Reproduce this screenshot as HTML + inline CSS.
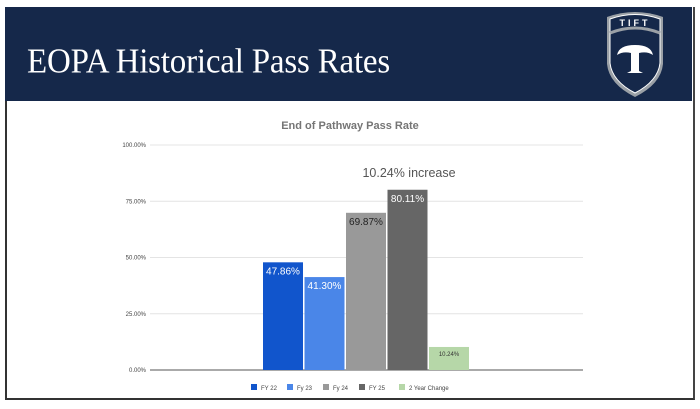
<!DOCTYPE html>
<html><head><meta charset="utf-8"><style>
body{margin:0;width:700px;height:409px;background:#fff;position:relative;overflow:hidden;font-family:"Liberation Sans",sans-serif}
#frame{position:absolute;left:5px;top:7px;width:686px;height:391px;border:2px solid #333;border-top:none;border-right:2px solid #444}
#header{position:absolute;left:5px;top:7px;width:687px;height:94px;background:#15284a}
#title{position:absolute;left:22px;top:36px;font-family:"Liberation Serif",serif;font-size:33px;color:#fff;letter-spacing:-0.2px;transform:scaleY(1.05);transform-origin:left top}
</style></head><body>
<div id="frame"></div>
<div id="header">
<div id="title">EOPA Historical Pass Rates</div>
</div>
<svg style="position:absolute;left:603px;top:9px" width="64" height="90" viewBox="0 0 64 90">
<path d="M4 8 Q32 -2 60 8 L60 55 Q58 75 32 88 Q6 75 4 55 Z" fill="#9aa0a6"/>
<path d="M7 10 Q32 1 57 10 L57 54 Q55 72 32 84 Q9 72 7 54 Z" fill="#15284a" stroke="#fff" stroke-width="1"/>
<path d="M7 24 Q32 14 57 24" stroke="#9aa0a6" stroke-width="3" fill="none"/>
<text x="32" y="17" font-family="Liberation Sans" font-weight="bold" font-size="9" fill="#fff" text-anchor="middle" letter-spacing="3">TIFT</text>
<path d="M14 46 Q16 36 32 36 Q48 36 50 46 Q44 42 36 44 L36 62 L40 64 L24 64 L28 62 L28 44 Q20 42 14 46 Z" fill="#fff"/>
</svg>
<svg id="chart" width="700" height="409" style="position:absolute;left:0;top:0"></svg>
<script>
const categories=["FY 22","Fy 23","Fy 24","FY 25","2 Year Change"];
const values=[47.86,41.30,69.87,80.11,10.24];
const labels=["47.86%","41.30%","69.87%","80.11%","10.24%"];
const ticks=[0,25,50,75,100];
const tickLabels=["0.00%","25.00%","50.00%","75.00%","100.00%"];
const colors=["#1155cc","#4a86e8","#999999","#666666","#b6d7a8"];
const labelColors=["#fff","#fff","#222","#fff","#333"];
const NS="http://www.w3.org/2000/svg";
const svg=document.getElementById('chart');
const x0=150,x1=583,y0=370,y1=145;
const y=v=>y0-(v/100)*(y0-y1);
const barX=i=>263+i*41.5;
const bw=40;
function mk(t,a){const e=document.createElementNS(NS,t);for(const k in a)e.setAttribute(k,a[k]);svg.appendChild(e);return e;}
let t=mk('text',{x:350,y:129,'text-anchor':'middle','font-size':11,'font-weight':'bold',fill:'#757575'});t.textContent="End of Pathway Pass Rate";


ticks.forEach((v,i)=>{
 const l=mk('line',{x1:x0,x2:x1,y1:y(v),y2:y(v),stroke:v===0?'#555':'#e4e4e4','stroke-width':1});
 
 
 const tx=mk('text',{x:146,y:y(v)+2,'text-anchor':'end','font-size':6,fill:'#444'});tx.textContent=tickLabels[i];
 
 
});
values.forEach((v,i)=>{
 const r=mk('rect',{x:barX(i),y:y(v),width:bw,height:y0-y(v),fill:colors[i]});
 
 
 const small=i===4;
 const lt=mk('text',{x:barX(i)+bw/2,y:y(v)+(small?9:12),'text-anchor':'middle','font-size':small?6:10,fill:labelColors[i]});lt.textContent=labels[i];
 
 
});
const ann=mk('text',{x:409,y:177,'text-anchor':'middle','font-size':12.5,fill:'#555'});ann.textContent="10.24% increase";


const lx=[251,287,323,359,399];
categories.forEach((c,i)=>{
 const r=mk('rect',{x:lx[i],y:384,width:6,height:6,fill:colors[i]});
 
 
 const tx=mk('text',{x:lx[i]+10,y:390,'font-size':6,fill:'#444'});tx.textContent=c;
 
 
});
</script>
</body></html>
